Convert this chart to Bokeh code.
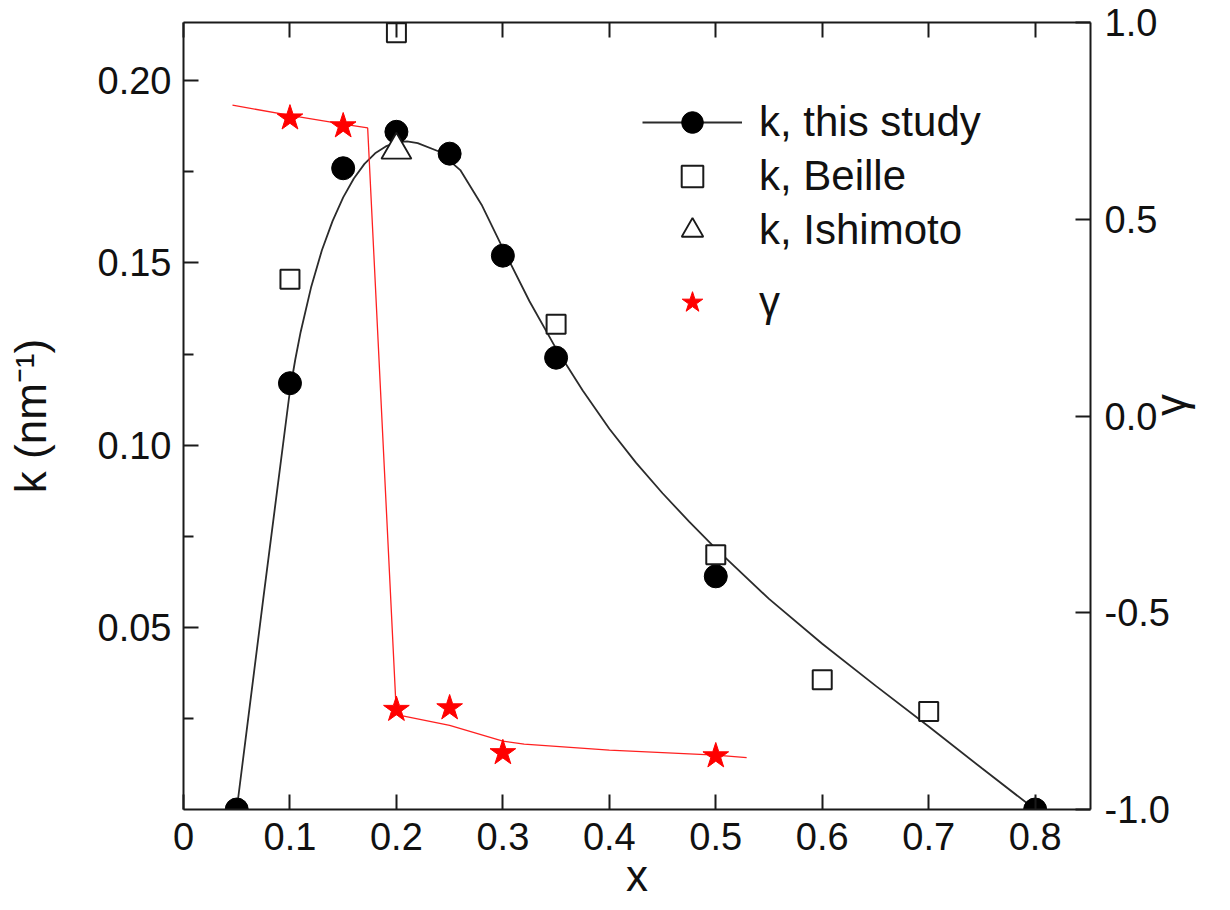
import math
from bokeh.plotting import figure
from bokeh.models import Range1d, LinearAxis, FixedTicker, Legend, LegendItem
from bokeh.embed import file_html
from bokeh.resources import INLINE

# ---- data ----
x_study = [0.05, 0.10, 0.15, 0.20, 0.25, 0.30, 0.35, 0.50, 0.80]
k_study = [0.000, 0.117, 0.176, 0.186, 0.180, 0.152, 0.124, 0.064, 0.000]

x_beille = [0.10, 0.20, 0.35, 0.50, 0.60, 0.70]
k_beille = [0.1455, 0.2132, 0.1332, 0.0699, 0.0356, 0.0269]

x_ishimoto = [0.20]
k_ishimoto = [0.181]

x_gamma = [0.10, 0.15, 0.20, 0.25, 0.30, 0.50]
g_gamma = [0.757, 0.737, -0.746, -0.742, -0.856, -0.864]

# fitted k curve
x_fit = [0.050, 0.075, 0.100, 0.105, 0.110, 0.120, 0.130, 0.140, 0.150, 0.160,
         0.170, 0.180, 0.190, 0.200, 0.210, 0.220, 0.240, 0.260, 0.280, 0.300,
         0.325, 0.350, 0.375, 0.400, 0.425, 0.450, 0.475, 0.500, 0.550, 0.600,
         0.650, 0.700, 0.750, 0.800]
k_fit = [0.000, 0.058, 0.115, 0.1235, 0.131, 0.1435, 0.1535, 0.1615, 0.1680, 0.1732,
         0.1772, 0.1801, 0.1820, 0.1831, 0.1834, 0.1829, 0.1806, 0.1755, 0.1660, 0.1540,
         0.1395, 0.1265, 0.1150, 0.1045, 0.0952, 0.0868, 0.0790, 0.0716, 0.0578, 0.0455,
         0.0340, 0.0228, 0.0113, 0.000]

# gamma guide line
x_gfit = [0.046, 0.100, 0.150, 0.173, 0.200, 0.250, 0.300, 0.320, 0.400, 0.500, 0.529]
g_gfit = [0.790, 0.764, 0.742, 0.732, -0.759, -0.786, -0.826, -0.834, -0.849, -0.862, -0.868]

x_ticks = [0.0, 0.1, 0.2, 0.3, 0.4, 0.5, 0.6, 0.7, 0.8]
x_tick_labels = ["0", "0.1", "0.2", "0.3", "0.4", "0.5", "0.6", "0.7", "0.8"]
k_ticks = [0.05, 0.10, 0.15, 0.20]
k_tick_labels = ["0.05", "0.10", "0.15", "0.20"]
k_minor = [0.025, 0.075, 0.125, 0.175]
g_ticks = [-1.0, -0.5, 0.0, 0.5, 1.0]
g_tick_labels = ["-1.0", "-0.5", "0.0", "0.5", "1.0"]

FONT = "Liberation Sans"
INK = "#1a1a1a"

p = figure(width=1222, height=902, x_range=Range1d(0, 0.852), y_range=Range1d(0, 0.216),
           output_backend="svg", toolbar_location=None,
           min_border_left=183, min_border_right=131, min_border_top=22, min_border_bottom=91)
p.extra_y_ranges = {"gamma": Range1d(-1.0, 1.0)}
p.grid.visible = False
p.outline_line_color = None
p.background_fill_color = "white"


def style(ax):
    ax.axis_line_width = 2
    ax.axis_line_color = INK
    ax.major_tick_line_width = 2
    ax.minor_tick_line_width = 2
    ax.major_tick_line_color = INK
    ax.minor_tick_line_color = INK
    ax.major_tick_in = 15
    ax.major_tick_out = 0
    ax.minor_tick_in = 10
    ax.minor_tick_out = 0
    ax.major_label_text_font = FONT
    ax.major_label_text_font_size = "38px"
    ax.major_label_text_color = "#111111"
    ax.axis_label_text_font = FONT
    ax.axis_label_text_font_size = "44px"
    ax.axis_label_text_font_style = "normal"
    ax.axis_label_text_color = "#111111"


xb = p.xaxis[0]
style(xb)
xb.ticker = FixedTicker(ticks=x_ticks, minor_ticks=[])
xb.major_label_overrides = {t: s for t, s in zip(x_ticks, x_tick_labels)}
xb.major_label_standoff = 13
xb.axis_label = "x"
xb.axis_label_standoff = -2

yl = p.yaxis[0]
style(yl)
yl.ticker = FixedTicker(ticks=k_ticks, minor_ticks=k_minor)
yl.major_label_overrides = {t: s for t, s in zip(k_ticks, k_tick_labels)}
yl.major_label_standoff = 12
yl.axis_label = "k (nm⁻¹)"
yl.axis_label_standoff = 40

xt = LinearAxis(ticker=FixedTicker(ticks=x_ticks, minor_ticks=[]))
style(xt)
xt.major_label_text_font_size = "0px"
xt.major_label_standoff = 0
xt.major_label_overrides = {t: "" for t in x_ticks}
p.add_layout(xt, "above")

yr = LinearAxis(y_range_name="gamma", ticker=FixedTicker(ticks=g_ticks, minor_ticks=[]))
style(yr)
yr.major_label_overrides = {t: s for t, s in zip(g_ticks, g_tick_labels)}
yr.major_label_standoff = 14
yr.axis_label = "γ"
yr.axis_label_standoff = -2
yr.axis_label_orientation = -1.5 * math.pi
p.add_layout(yr, "right")

curve = p.line(x_fit, k_fit, line_color="#2b2b2b", line_width=1.8)
gline = p.line(x_gfit, g_gfit, y_range_name="gamma", line_color="#ff2020", line_width=1.3)
study = p.scatter(x_study, k_study, marker="circle", size=23, fill_color="black", line_color="black")
beille = p.scatter(x_beille, k_beille, marker="square", size=19, fill_color="white",
                   line_color=INK, line_width=2)
ishi = p.scatter(x_ishimoto, k_ishimoto, marker="triangle", size=30, fill_color="white",
                 line_color=INK, line_width=1.8)
gam = p.scatter(x_gamma, g_gamma, y_range_name="gamma", marker="star", size=27,
                fill_color="#ff0000", line_color="#ff0000")


def legend_style(lg):
    lg.label_text_font = FONT
    lg.label_text_font_size = "42px"
    lg.label_text_color = "#111111"
    lg.glyph_width = 100
    lg.glyph_height = 54
    lg.label_height = 50
    lg.label_standoff = 17
    lg.spacing = 0
    lg.padding = 10
    lg.margin = 0
    lg.background_fill_alpha = 0
    lg.border_line_alpha = 0


leg1 = Legend(items=[LegendItem(label="k, this study", renderers=[curve, study]),
                     LegendItem(label="k, Beille", renderers=[beille]),
                     LegendItem(label="k, Ishimoto", renderers=[ishi])],
              location=(449, 542))
legend_style(leg1)
leg2 = Legend(items=[LegendItem(label="γ", renderers=[gam])], location=(449, 470))
legend_style(leg2)
p.add_layout(leg1)
p.add_layout(leg2)

open("out.html", "w").write(file_html(p, INLINE))
